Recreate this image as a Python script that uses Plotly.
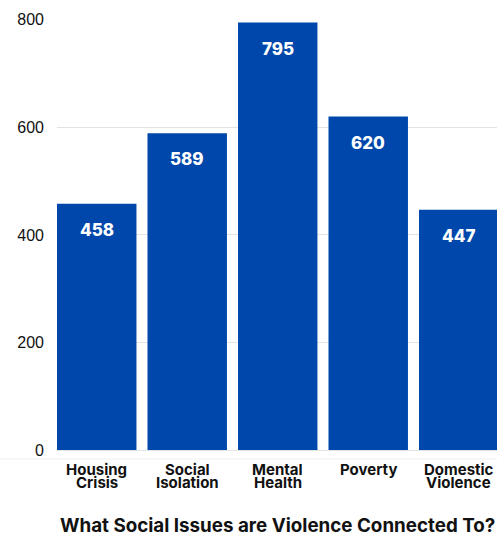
import plotly.graph_objects as go

categories = ["Housing Crisis", "Social Isolation", "Mental Health", "Poverty", "Domestic Violence"]
values = [458, 589, 795, 620, 447]
y_ticks = [0, 200, 400, 600, 800]
title_text = "What Social Issues are Violence Connected To?"

BAR = "#0047AB"
LABEL_FONT = "Inter"

x = list(range(len(categories)))

fig = go.Figure()
fig.add_trace(go.Bar(x=x, y=values, marker=dict(color=BAR, line=dict(width=0)),
                     width=0.878, hoverinfo="skip"))

annotations = []
for i, v in zip(x, values):
    annotations.append(dict(x=i, y=v, xref="x", yref="y", text=str(v), showarrow=False,
                            yanchor="middle", yshift=-26,
                            font=dict(family=LABEL_FONT, size=17, color="white", weight=800)))
for i, cat in zip(x, categories):
    words = cat.split(" ")
    for j, w in enumerate(words):
        annotations.append(dict(x=i, y=0, xref="x", yref="paper", text=w, showarrow=False,
                                yanchor="middle", yshift=-19 - 13.8 * j,
                                font=dict(family=LABEL_FONT, size=15, color="#111111", weight=700)))
annotations.append(dict(x=2, y=0, xref="x", yref="paper", text=title_text, showarrow=False,
                        yanchor="middle", yshift=-75,
                        font=dict(family=LABEL_FONT, size=18.8, color="#111111", weight=700)))

fig.update_layout(
    width=497, height=536,
    margin=dict(l=57, r=0, t=19, b=86, pad=0),
    plot_bgcolor="white", paper_bgcolor="white",
    showlegend=False,
    annotations=annotations,
    shapes=[dict(type="line", xref="paper", yref="paper", x0=-0.2, x1=1.1,
                 y0=-9 / 431, y1=-9 / 431, line=dict(color="#eeeeee", width=1))],
)
fig.update_xaxes(range=[-0.439, 4.423], showticklabels=False, showgrid=False,
                 zeroline=False, showline=False, fixedrange=True)
fig.update_yaxes(range=[0, 801.5], tickvals=y_ticks, showgrid=True, gridcolor="#e3e3e3",
                 gridwidth=1, zeroline=True, zerolinecolor="#e3e3e3", zerolinewidth=1,
                 showline=False, ticklabelstandoff=12,
                 tickfont=dict(family="Liberation Sans", size=16, color="#111111"))

fig.write_html("out.html")
